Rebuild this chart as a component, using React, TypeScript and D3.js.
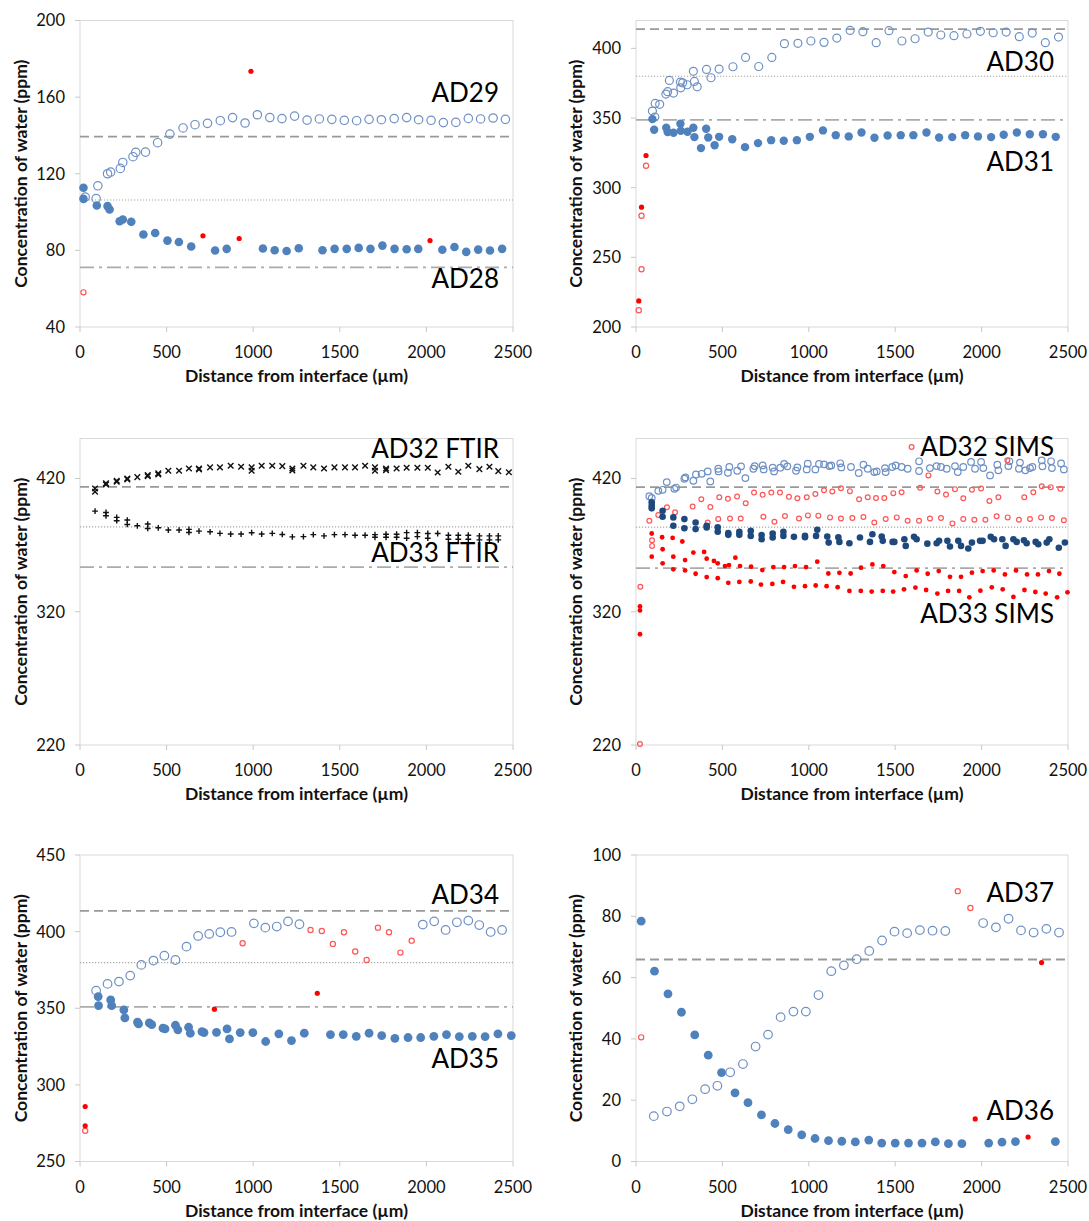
import React from 'react';
import * as d3 from 'd3';

type Pt = [number, number];

// ---------- Panel 1 (AD29 / AD28) ----------
const ad29: Pt[] = [[30,107.8],[93,107],[103,113.7],[159,120],[177,120.9],[233,122.8],[247,125.9],[306,128.9],[322,131.2],[378,131.3],[448,136.2],[519,140.7],[595,143.9],[664,145.6],[736,146.3],[810,147.7],[881,149.3],[953,146.5],[1024,150.8],[1096,149.3],[1166,148.8],[1239,150.1],[1311,148],[1382,148.6],[1454,148.4],[1526,147.9],[1597,147.7],[1669,148.4],[1740,148.2],[1814,148.8],[1886,149.3],[1955,148.2],[2027,147.9],[2098,146.7],[2170,146.8],[2242,148.9],[2313,148.6],[2385,149.1],[2456,148.4]];
const ad28: Pt[] = [[20,112.7],[20,106.9],[97,103.4],[159,103.1],[171,101.3],[229,95.2],[247,96.1],[296,94.9],[366,88.3],[434,89.1],[505,85.1],[571,84.4],[642,82],[780,79.9],[847,80.8],[1056,81],[1124,80.1],[1193,79.7],[1263,81.1],[1400,80.1],[1470,80.8],[1540,80.8],[1609,81.3],[1677,80.8],[1746,82.5],[1816,80.8],[1886,80.6],[1953,80.8],[2092,80.3],[2162,81.8],[2230,79.2],[2299,80.4],[2367,79.9],[2437,80.8]];
const p1RedFilled: Pt[] = [[710,87.6],[919,86.2],[987,173.5],[2021,85.1]];
const p1RedOpen: Pt[] = [[20,58.1]];

// ---------- Panel 2 (AD30 / AD31) ----------
const ad30: Pt[] = [[95,355],[109,350.7],[111,360.5],[137,359.8],[173,367.2],[183,368.9],[193,377],[217,367.9],[257,375.8],[259,371.7],[270,375.3],[296,373.9],[332,383.5],[338,376.3],[354,372.4],[408,384.9],[434,378.9],[481,385.1],[561,386.8],[634,393.5],[710,387],[786,393.5],[859,403.4],[937,403.6],[1012,405.3],[1088,404.3],[1162,407.4],[1239,412.9],[1313,412],[1390,404.1],[1464,412.7],[1539,405.3],[1615,406.9],[1691,411.7],[1764,409.6],[1840,409.1],[1915,410.3],[1993,412.2],[2067,411.2],[2142,411.7],[2218,408.4],[2293,411],[2369,404.1],[2445,408.1]];
const ad31: Pt[] = [[95,349.2],[105,341.6],[175,343],[183,339.9],[217,339.4],[257,345.9],[259,340.8],[298,340.1],[332,343],[338,336.3],[376,328.4],[406,342.3],[418,336],[455,330.5],[481,336.5],[557,334.8],[631,329.1],[706,332],[782,334.1],[855,333.7],[931,334.1],[1006,336.5],[1082,341.1],[1156,337.7],[1231,336.8],[1305,339.6],[1380,335.8],[1456,337.5],[1532,337.7],[1605,337.7],[1681,339.6],[1754,336],[1830,336.3],[1905,337.7],[1979,336.8],[2055,336.3],[2128,338],[2204,339.6],[2279,338.4],[2355,338.4],[2429,336.5]];
const p2RedFilled: Pt[] = [[16,218.7],[32,286],[58,323.1]];
const p2RedOpen: Pt[] = [[16,212],[32,279.8],[32,241.4],[58,315.7]];

// ---------- Panel 3 (AD32 FTIR / AD33 FTIR) ----------
const ad32Ftir: Pt[] = [[87,412.5],[87,410],[150,415.5],[150,416.3],[212,417.5],[212,418.3],[273,419.3],[273,420],[331,421],[391,422.5],[391,421.7],[452,423.8],[452,423],[510,425.8],[572,425.8],[629,427.5],[687,427.5],[687,426.8],[751,428.3],[808,428.3],[870,429.5],[930,428.8],[991,428.3],[991,425.8],[1049,429.5],[1110,429.5],[1168,429.3],[1226,427.5],[1226,426],[1290,429.5],[1347,428.3],[1409,427.5],[1469,428.3],[1530,428.3],[1588,428.3],[1646,429.5],[1703,428.3],[1703,425.8],[1767,427.5],[1767,426.3],[1828,427.5],[1886,428],[1948,428],[2008,428],[2065,424.5],[2127,428.8],[2184,425],[2242,429.5],[2306,427],[2364,428.8],[2415,425.5],[2476,424.7]];
const ad33Ftir: Pt[] = [[87,395.5],[150,394.5],[150,392],[212,390.8],[212,388.3],[273,388.8],[273,385.5],[331,384.5],[391,385.8],[391,382.5],[452,383],[510,381.3],[572,381.3],[629,381.8],[629,379.5],[687,380.5],[751,380],[808,378.8],[870,378.3],[930,378.3],[991,379.3],[1049,378.3],[1110,378.8],[1168,378],[1226,376.2],[1290,376.4],[1347,377.9],[1409,376.9],[1469,377.9],[1530,377.9],[1588,377.4],[1646,377.4],[1703,377.9],[1703,375.9],[1767,378.2],[1767,375.9],[1828,378.2],[1828,375.9],[1886,379.4],[1886,375.2],[1948,379.4],[1948,376.4],[2008,378.7],[2008,375.2],[2065,378.7],[2127,377.4],[2127,374.4],[2184,377.4],[2184,374.4],[2242,377.4],[2242,374.4],[2306,376.9],[2306,373.9],[2364,376.9],[2364,373.9],[2415,376.9],[2415,373.9]];

// ---------- Panel 4 (AD32 SIMS / AD33 SIMS) ----------
const ad32Sims: Pt[] = [[77,406.7],[91,405.4],[129,410.7],[154,411.5],[178,417.3],[222,412.2],[232,413.2],[280,419.8],[286,420.8],[332,418.3],[347,423],[380,423.5],[415,425.3],[430,417.8],[476,427.3],[478,425.3],[532,424.3],[540,428.6],[586,425.8],[608,429.1],[633,420.3],[679,427.3],[687,429.3],[733,429.8],[739,426.8],[791,428.1],[799,425.3],[835,428.1],[857,430.9],[876,429.1],[926,425.8],[934,428.3],[988,426.8],[994,431.1],[1038,426.8],[1059,430.9],[1088,430.6],[1119,429.3],[1130,429.8],[1182,431.4],[1188,428.3],[1244,428.6],[1289,424.1],[1316,430.3],[1341,427.3],[1379,424.8],[1393,425.3],[1441,427.8],[1445,424.8],[1483,428.6],[1503,429.8],[1537,428.6],[1572,427.3],[1638,432.9],[1638,425.6],[1701,427.8],[1740,429.3],[1765,428.6],[1798,427.3],[1846,429.3],[1862,424.8],[1894,428.6],[1939,432.4],[1962,427.3],[1997,432.4],[2010,427.8],[2049,422.3],[2091,430.3],[2097,426.1],[2155,429.3],[2161,432.9],[2216,427.3],[2222,431.9],[2253,426.1],[2280,427.8],[2294,428.6],[2348,433.6],[2352,429.1],[2402,432.9],[2407,427.8],[2460,431.3],[2476,426.8]];
const ad33Sims: Pt[] = [[91,402.1],[91,399.6],[91,397.6],[154,395.8],[154,391.3],[216,390.8],[216,384.5],[280,389.5],[280,382.7],[345,387],[345,382],[409,384.5],[409,383.3],[473,383.3],[473,380],[534,379],[534,377.7],[598,380],[598,377.7],[664,380.7],[664,376.9],[727,377.5],[727,374.4],[791,378.7],[791,375.7],[853,380],[853,376.9],[914,376.2],[978,376.9],[978,375.9],[1042,376.9],[1049,381.5],[1107,376.4],[1115,371.9],[1171,375.9],[1177,372.4],[1235,371.4],[1296,375.7],[1354,372.4],[1368,378.2],[1422,376.4],[1428,373.2],[1485,372.4],[1495,372.4],[1553,374.4],[1561,369.4],[1609,376.2],[1624,374.4],[1686,371.1],[1740,371.4],[1754,373.2],[1802,373.2],[1817,368.9],[1865,373.2],[1881,369.4],[1923,367.4],[1944,371.9],[1991,373.2],[2006,373.2],[2053,376.2],[2072,374.4],[2120,374.4],[2139,369.4],[2184,374.4],[2203,372.4],[2245,373.7],[2261,371.4],[2313,372.4],[2328,370.6],[2377,371.9],[2392,374.4],[2447,368],[2482,372]];
const p4RedOpen: Pt[] = [[179,398.4],[328,398.9],[378,404.4],[430,398.6],[482,405.9],[532,404.7],[585,406.4],[635,401.4],[683,409.4],[733,407.7],[783,409.4],[833,409.4],[885,406.2],[934,405.2],[988,405.9],[1038,408.4],[1088,411.2],[1136,410.2],[1186,412.7],[1238,410.5],[1291,404.4],[1341,405.9],[1389,405.4],[1437,405.4],[1489,409],[1537,409.7],[1595,443.6],[1644,413],[1692,422.3],[1744,410.2],[1794,407.9],[1846,412],[1894,405.2],[1944,411.5],[1997,412.5],[2045,403.1],[2097,405.9],[2149,433.6],[2247,405.9],[2299,409.7],[2348,414.2],[2400,413.5],[2456,412.2],
  [77,388.3],[129,392.6],[226,394.6],[415,387],[476,389.6],[544,390],[606,390],[737,391.3],[801,387.5],[862,391.8],[943,390],[995,392.3],[1055,392.1],[1123,390.8],[1186,390],[1252,390.3],[1316,391.1],[1379,387],[1445,389.6],[1509,390.8],[1572,388.3],[1638,388.3],[1701,390],[1765,390.3],[1831,386.3],[1894,389.6],[1958,389],[2022,389],[2087,391.6],[2151,390.8],[2216,389],[2280,389.6],[2344,390.8],[2407,390.3],[2476,388.6],
  [93,373.7],[93,369.4],[25,338.7],[23,220.8]];
const p4RedFilled: Pt[] = [[23,324],[23,321],[23,303.1],[91,378.7],[151,375.9],[212,375.4],[268,372.7],[154,366.9],[332,364.4],[394,364.9],[91,361.3],[216,361.3],[284,358.8],[409,359.8],[451,358.1],[473,356.3],[575,360.6],[1049,357.6],[154,356.3],[216,351.8],[538,355],[515,354.3],[602,354.3],[666,353.8],[795,353.5],[857,353.5],[920,354.3],[984,353.5],[731,351.3],[284,351],[345,348.5],[409,346],[473,345.2],[534,341.7],[598,342.4],[664,342.7],[723,340.4],[789,340.9],[851,342.4],[914,338.7],[978,339.2],[1040,339.7],[1103,339.2],[1167,338.4],[1113,348.7],[1177,349.2],
  [1242,348.7],[1302,353],[1368,355.5],[1431,354.3],[1495,349.8],[1561,346.8],[1624,351],[1688,348.5],[1752,350.5],[1817,346.2],[1881,346.2],[1944,349.3],[2006,350.5],[2070,351],[2135,348],[2199,351],[2263,348],[2326,348],[2390,350.5],[2450,348.5],
  [1235,335.6],[1301,335.6],[1364,335.1],[1428,335.6],[1488,335.1],[1551,336.8],[1617,338.1],[1679,336.3],[1744,333.6],[1806,335.6],[1870,335.6],[1929,330.8],[1993,335.8],[2059,338.3],[2122,336.8],[2184,331.1],[2248,336.3],[2311,334.8],[2371,333.6],[2437,330.8],[2497,334.6]];

// ---------- Panel 5 (AD34 / AD35) ----------
const ad34: Pt[] = [[93,361.5],[159,365.9],[225,367.4],[290,371.3],[354,378.3],[424,381.1],[487,384.3],[551,381.5],[615,390.2],[682,397.2],[746,398.5],[810,399.6],[875,399.8],[1004,405.4],[1070,402.6],[1136,403.3],[1201,406.7],[1267,404.8],[1979,404.6],[2045,406.7],[2111,401.1],[2176,406.1],[2242,407.2],[2305,404.3],[2371,399.8],[2437,401.1]];
const p5RedOpen: Pt[] = [[939,392.4],[1331,401.1],[1396,400.4],[1460,392],[1524,399.6],[1589,387],[1655,381.5],[1720,402.6],[1784,399.6],[1850,386.3],[1915,394.1],[30,270]];
const p5RedFilled: Pt[] = [[30,285.9],[30,273.3],[776,349.4],[1370,359.8]];
const ad35: Pt[] = [[105,357.6],[107,351.7],[177,355.4],[183,351.7],[253,348.9],[259,343.7],[332,340.9],[338,339.8],[400,340.4],[414,339.3],[479,337],[491,336.5],[551,338.9],[565,335.9],[627,337.6],[637,333.7],[704,334.8],[716,334.1],[788,334.3],[849,336.5],[863,330],[925,334.1],[998,334.1],[1072,328.3],[1148,333.3],[1221,328.9],[1295,333.7],[1446,332.8],[1520,332.8],[1595,331.7],[1669,333.7],[1742,332.2],[1818,330.4],[1894,330.9],[1967,330.9],[2043,331.7],[2116,332.8],[2190,331.5],[2265,331.7],[2339,331.5],[2413,333.3],[2490,332.2]];

// ---------- Panel 6 (AD37 / AD36) ----------
const ad36: Pt[] = [[30,78.4],[107,62.1],[185,54.7],[263,48.7],[340,41.3],[418,34.7],[495,29],[573,22.4],[648,19.2],[726,15.2],[804,12.4],[881,10.4],[959,8.7],[1036,7.5],[1114,6.8],[1191,6.6],[1269,6.4],[1347,7],[1422,6],[1500,6],[1577,6],[1655,6],[1732,6.4],[1808,5.8],[1886,5.8],[2041,6],[2118,6.3],[2196,6.5],[2427,6.5]];
const ad37: Pt[] = [[103,14.8],[179,16.3],[253,18],[326,20.3],[400,23.6],[471,24.7],[545,29.1],[619,31.8],[692,37.5],[764,41.4],[837,47.1],[911,48.9],[983,48.9],[1056,54.3],[1130,62.1],[1203,64],[1277,66],[1350,68.7],[1424,72.1],[1496,75],[1569,74.5],[1643,75.5],[1716,75.3],[1790,75.2],[2009,77.8],[2083,76.4],[2156,79.2],[2228,75.4],[2301,74.7],[2375,75.9],[2448,74.7]];
const p6RedOpen: Pt[] = [[30,40.5],[1862,88.2],[1935,82.7]];
const p6RedFilled: Pt[] = [[1963,13.9],[2269,8],[2347,64.9]];

// ---------- Axes ----------
const xTicks = [0, 500, 1000, 1500, 2000, 2500];
const yTicksP1 = [40, 80, 120, 160, 200];
const yTicksP2 = [200, 250, 300, 350, 400];
const yTicksP34 = [220, 320, 420];
const yTicksP5 = [250, 300, 350, 400, 450];
const yTicksP6 = [0, 20, 40, 60, 80, 100];
const xTitle = 'Distance from interface (µm)';
const yTitle = 'Concentration of water (ppm)';

type Kind = 'filled' | 'open' | 'times' | 'plus';
interface Series { data: Pt[]; kind: Kind; color: string; r: number; sw?: number }
interface RefLine { value: number; style: 'dash' | 'dot' | 'dashdot' }
interface Label { text: string; y: number }
interface Panel { col: number; row: number; yDomain: [number, number]; yTicks: number[]; series: Series[]; refs: RefLine[]; labels: Label[] }

const C = {
  blue: '#4f81bd', blueOpen: '#6f90c4', navy: '#1f497d', red: '#ff0000', redOpen: '#ff5555', black: '#111111',
};

const panels: Panel[] = [
  { col: 0, row: 0, yDomain: [40, 200], yTicks: yTicksP1,
    refs: [{ value: 139.4, style: 'dash' }, { value: 106.3, style: 'dot' }, { value: 71.1, style: 'dashdot' }],
    labels: [{ text: 'AD29', y: 157.6 }, { text: 'AD28', y: 60.1 }],
    series: [
      { data: ad29, kind: 'open', color: C.blueOpen, r: 4.2 },
      { data: ad28, kind: 'filled', color: C.blue, r: 4.3 },
      { data: p1RedOpen, kind: 'open', color: C.redOpen, r: 2.6 },
      { data: p1RedFilled, kind: 'filled', color: C.red, r: 2.6 },
    ] },
  { col: 1, row: 0, yDomain: [200, 420], yTicks: yTicksP2,
    refs: [{ value: 413.8, style: 'dash' }, { value: 380, style: 'dot' }, { value: 348.7, style: 'dashdot' }],
    labels: [{ text: 'AD30', y: 383.9 }, { text: 'AD31', y: 312.2 }],
    series: [
      { data: ad30, kind: 'open', color: C.blueOpen, r: 4 },
      { data: ad31, kind: 'filled', color: C.blue, r: 4.2 },
      { data: p2RedOpen, kind: 'open', color: C.redOpen, r: 2.6 },
      { data: p2RedFilled, kind: 'filled', color: C.red, r: 2.6 },
    ] },
  { col: 0, row: 1, yDomain: [220, 450], yTicks: yTicksP34,
    refs: [{ value: 413.7, style: 'dash' }, { value: 383.7, style: 'dot' }, { value: 353.5, style: 'dashdot' }],
    labels: [{ text: 'AD32 FTIR', y: 435 }, { text: 'AD33 FTIR', y: 357.5 }],
    series: [
      { data: ad32Ftir, kind: 'times', color: C.black, r: 2.8, sw: 1.4 },
      { data: ad33Ftir, kind: 'plus', color: C.black, r: 2.9, sw: 1.4 },
    ] },
  { col: 1, row: 1, yDomain: [220, 450], yTicks: yTicksP34,
    refs: [{ value: 413.5, style: 'dash' }, { value: 383.5, style: 'dot' }, { value: 352.8, style: 'dashdot' }],
    labels: [{ text: 'AD32 SIMS', y: 436.6 }, { text: 'AD33 SIMS', y: 311.4 }],
    series: [
      { data: ad32Sims, kind: 'open', color: C.blueOpen, r: 3.3 },
      { data: p4RedOpen, kind: 'open', color: C.redOpen, r: 2.4 },
      { data: ad33Sims, kind: 'filled', color: C.navy, r: 3.3 },
      { data: p4RedFilled, kind: 'filled', color: C.red, r: 2.4 },
    ] },
  { col: 0, row: 2, yDomain: [250, 450], yTicks: yTicksP5,
    refs: [{ value: 413.5, style: 'dash' }, { value: 379.8, style: 'dot' }, { value: 350.9, style: 'dashdot' }],
    labels: [{ text: 'AD34', y: 418 }, { text: 'AD35', y: 311 }],
    series: [
      { data: ad34, kind: 'open', color: C.blueOpen, r: 4.3 },
      { data: ad35, kind: 'filled', color: C.blue, r: 4.4 },
      { data: p5RedOpen, kind: 'open', color: C.redOpen, r: 2.6 },
      { data: p5RedFilled, kind: 'filled', color: C.red, r: 2.6 },
    ] },
  { col: 1, row: 2, yDomain: [0, 100], yTicks: yTicksP6,
    refs: [{ value: 65.9, style: 'dash' }],
    labels: [{ text: 'AD37', y: 84.8 }, { text: 'AD36', y: 13.6 }],
    series: [
      { data: ad37, kind: 'open', color: C.blueOpen, r: 4.3 },
      { data: ad36, kind: 'filled', color: C.blue, r: 4.4 },
      { data: p6RedOpen, kind: 'open', color: C.redOpen, r: 2.6 },
      { data: p6RedFilled, kind: 'filled', color: C.red, r: 2.6 },
    ] },
];

const FONT = 'Lato, "Open Sans", "DejaVu Sans", sans-serif';
const COLS = [[80, 513], [636, 1068]];
const TOPS = [20.5, 438.5, 855];
const PH = 306.5;

const refStyle: Record<string, { stroke: string; w: number; dash: string }> = {
  dash: { stroke: '#999999', w: 1.8, dash: '9,5' },
  dot: { stroke: '#a6a6a6', w: 1.1, dash: '1.2,1.8' },
  dashdot: { stroke: '#ababab', w: 1.8, dash: '14,5,3,5' },
};

function Marker({ s, cx, cy }: { s: Series; cx: number; cy: number }) {
  if (s.kind === 'filled') return <circle cx={cx} cy={cy} r={s.r} fill={s.color} />;
  if (s.kind === 'open') return <circle cx={cx} cy={cy} r={s.r} fill="none" stroke={s.color} strokeWidth={1.2} />;
  const r = s.r;
  const p = d3.path();
  if (s.kind === 'times') {
    p.moveTo(cx - r, cy - r); p.lineTo(cx + r, cy + r);
    p.moveTo(cx - r, cy + r); p.lineTo(cx + r, cy - r);
  } else {
    p.moveTo(cx - r, cy); p.lineTo(cx + r, cy);
    p.moveTo(cx, cy - r); p.lineTo(cx, cy + r);
  }
  return <path d={p.toString()} stroke={s.color} strokeWidth={s.sw ?? 1.2} fill="none" />;
}

function PanelView({ p }: { p: Panel }) {
  const [x0, x1] = COLS[p.col];
  const top = TOPS[p.row];
  const bottom = top + PH;
  const x = d3.scaleLinear().domain([0, 2500]).range([x0, x1]);
  const y = d3.scaleLinear().domain(p.yDomain).range([bottom, top]);
  const titleX = p.col === 0 ? 21 : 576;
  const midY = (top + bottom) / 2;
  return (
    <g>
      <rect x={x0} y={top} width={x1 - x0} height={bottom - top} fill="none" stroke="#d9d9d9" strokeWidth={1} />
      {p.yTicks.map((t) => (
        <g key={'yt' + t}>
          <line x1={x0 - 5} x2={x0} y1={y(t)} y2={y(t)} stroke="#c8c8c8" />
          <text x={x0 - 15} y={y(t)} dy="0.36em" textAnchor="end" fontSize={16.5} fontFamily={FONT} fill="#111">{t}</text>
        </g>
      ))}
      {xTicks.map((t) => (
        <g key={'xt' + t}>
          <line x1={x(t)} x2={x(t)} y1={bottom} y2={bottom + 5} stroke="#c8c8c8" />
          <text x={x(t)} y={bottom + 31} textAnchor="middle" fontSize={16.5} fontFamily={FONT} fill="#111">{t}</text>
        </g>
      ))}
      <text x={(x0 + x1) / 2} y={bottom + 55} textAnchor="middle" fontSize={17.5} fontWeight="bold" fontFamily={FONT} fill="#111">{xTitle}</text>
      <text transform={`translate(${titleX},${midY}) rotate(-90)`} dy="0.36em" textAnchor="middle" fontSize={17.5} fontWeight="bold" fontFamily={FONT} fill="#111">{yTitle}</text>
      {p.refs.map((r, i) => {
        const st = refStyle[r.style];
        return <line key={'ref' + i} x1={x0} x2={x1} y1={y(r.value)} y2={y(r.value)} stroke={st.stroke} strokeWidth={st.w} strokeDasharray={st.dash} />;
      })}
      {p.series.map((s, si) => (
        <g key={'s' + si}>
          {s.data.map((d, i) => <Marker key={i} s={s} cx={x(d[0])} cy={y(d[1])} />)}
        </g>
      ))}
      {p.labels.map((l) => (
        <text key={l.text} x={x1 - 14} y={y(l.y)} textAnchor="end" fontSize={26} fontFamily={FONT} fill="#000">{l.text}</text>
      ))}
    </g>
  );
}

export default function App() {
  return (
    <svg width={1089} height={1221} style={{ position: 'absolute', left: 0, top: 0, background: '#fff' }}>
      <rect x={0} y={0} width={1089} height={1221} fill="#fff" />
      {panels.map((p, i) => <PanelView key={i} p={p} />)}
    </svg>
  );
}
